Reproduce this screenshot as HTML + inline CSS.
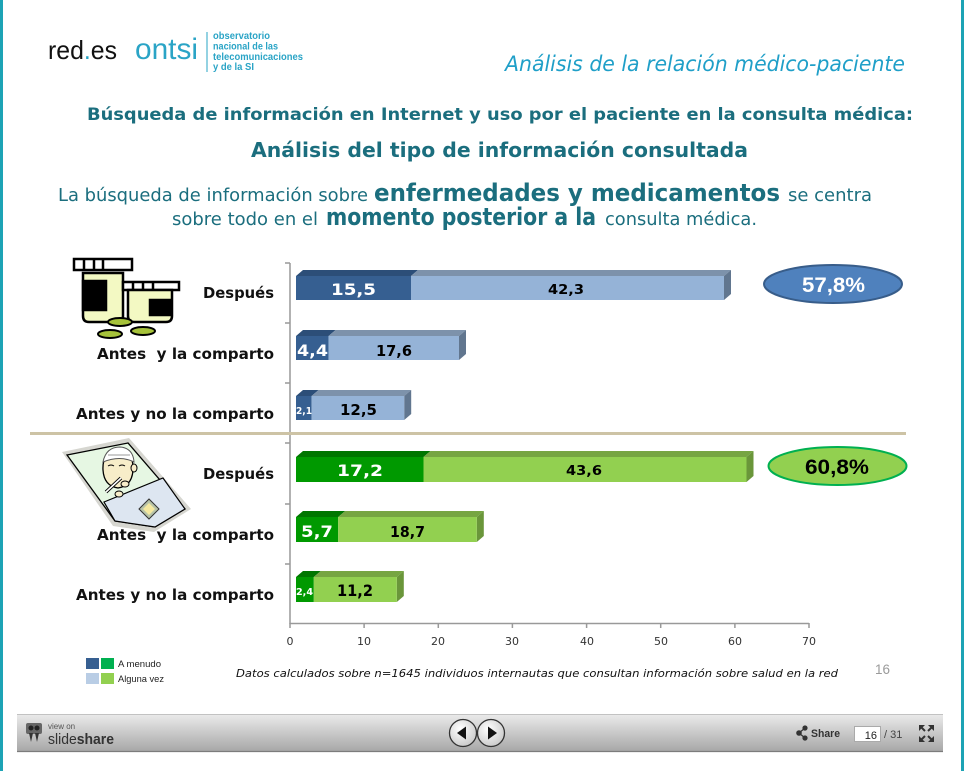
<!DOCTYPE html>
<html><head><meta charset="utf-8">
<style>
html,body{margin:0;padding:0;background:#fff;}
svg{display:block;}
text{white-space:pre;}
</style></head><body>
<svg width="964" height="771" viewBox="0 0 964 771" xmlns="http://www.w3.org/2000/svg">
<defs>
<linearGradient id="tb" x1="0" y1="0" x2="0" y2="1">
<stop offset="0" stop-color="#ebebeb"/><stop offset="1" stop-color="#a6a6a6"/>
</linearGradient>
<radialGradient id="btn" cx="0.4" cy="0.35" r="0.75">
<stop offset="0" stop-color="#ffffff"/><stop offset="1" stop-color="#c4c4c4"/>
</radialGradient>
</defs>
<rect width="964" height="771" fill="#fff"/>
<rect x="0" y="0" width="3" height="771" fill="#1ca3b5"/>
<rect x="961" y="0" width="3" height="771" fill="#1ca3b5"/>

<!-- header logos -->
<text x="48" y="59" font-family="Liberation Sans, sans-serif" font-size="26" fill="#111" textLength="69" lengthAdjust="spacingAndGlyphs">red<tspan fill="#25a3c3">.</tspan>es</text>
<text x="135" y="59" font-family="Liberation Sans, sans-serif" font-size="30" fill="#2aa4c6" textLength="63" lengthAdjust="spacingAndGlyphs">ontsi</text>
<line x1="207" y1="32" x2="207" y2="72" stroke="#2aa4c6" stroke-width="1"/>
<g font-family="Liberation Sans, sans-serif" font-size="10.5" font-weight="bold" fill="#2aa4c6">
<text x="213" y="39" textLength="57" lengthAdjust="spacingAndGlyphs">observatorio</text>
<text x="213" y="49.5" textLength="65" lengthAdjust="spacingAndGlyphs">nacional de las</text>
<text x="213" y="60" textLength="90" lengthAdjust="spacingAndGlyphs">telecomunicaciones</text>
<text x="213" y="70" textLength="41" lengthAdjust="spacingAndGlyphs">y de la SI</text>
</g>
<text x="505" y="71" font-family="DejaVu Sans, sans-serif" font-style="italic" font-size="21" fill="#1f9fc8" textLength="400" lengthAdjust="spacingAndGlyphs">Análisis de la relación médico-paciente</text>

<!-- titles -->
<g font-family="DejaVu Sans, sans-serif" fill="#1b6e7e">
<text x="87" y="120" font-size="17" font-weight="bold" textLength="826" lengthAdjust="spacingAndGlyphs">Búsqueda de información en Internet y uso por el paciente en la consulta médica:</text>
<text x="251" y="157" font-size="20" font-weight="bold" textLength="497" lengthAdjust="spacingAndGlyphs">Análisis del tipo de información consultada</text>
<text x="58" y="201" font-size="18" textLength="310" lengthAdjust="spacingAndGlyphs">La búsqueda de información sobre</text>
<text x="374" y="201" font-size="24" font-weight="bold" textLength="406" lengthAdjust="spacingAndGlyphs">enfermedades y medicamentos</text>
<text x="788" y="201" font-size="18" textLength="84" lengthAdjust="spacingAndGlyphs">se centra</text>
<text x="172" y="225" font-size="18" textLength="146" lengthAdjust="spacingAndGlyphs">sobre todo en el</text>
<text x="326" y="225" font-size="24" font-weight="bold" textLength="270" lengthAdjust="spacingAndGlyphs">momento posterior a la</text>
<text x="605" y="225" font-size="18" textLength="152" lengthAdjust="spacingAndGlyphs">consulta médica.</text>
</g>

<!-- bottles clip art -->
<g stroke="#000" stroke-width="2.5">
<rect x="74" y="259" width="58" height="11" fill="#fff"/>
<line x1="84" y1="259" x2="84" y2="270"/><line x1="94" y1="259" x2="94" y2="270"/><line x1="103" y1="259" x2="103" y2="270"/>
<path d="M83,273 H123 V316 Q123,322 117,322 H89 Q83,322 83,316 Z" fill="#f3f9c3"/>
<rect x="83" y="281" width="23" height="29" fill="#000"/>
<rect x="123" y="282" width="56" height="8" fill="#fff"/>
<line x1="133" y1="282" x2="133" y2="290"/><line x1="143" y1="282" x2="143" y2="290"/><line x1="153" y1="282" x2="153" y2="290"/>
<path d="M128,290 H172 V316 Q172,322 166,322 H134 Q128,322 128,316 Z" fill="#f3f9c3"/>
<rect x="150" y="300" width="20" height="15" fill="#000"/>
<ellipse cx="120" cy="322" rx="12" ry="4" fill="#a6c23a" stroke-width="2"/>
<ellipse cx="110" cy="334" rx="12" ry="4" fill="#a6c23a" stroke-width="2"/>
<ellipse cx="143" cy="331" rx="12" ry="4" fill="#a6c23a" stroke-width="2"/>
</g>

<!-- patient clip art -->
<g>
<polygon points="62,452 129,438 191,509 154,532 113,526" fill="#d6d6d0"/>
<polygon points="67,455 128,443 185,509 155,527 115,521" fill="#e6f7e3" stroke="#000" stroke-width="1.3"/>
<polygon points="104,502 163,478 185,509 155,527 115,521" fill="#dde6f1" stroke="#000" stroke-width="1.2"/>
<path d="M103,470 Q102,452 118,450 Q134,452 133,470 Q132,486 118,488 Q104,486 103,470 Z" fill="#f7edc9" stroke="#000" stroke-width="1.3"/>
<path d="M103,462 Q106,447 120,447 Q133,448 134,462 Q120,455 103,462 Z" fill="#fff" stroke="#555" stroke-width="1"/>
<line x1="108" y1="455" x2="130" y2="455" stroke="#999" stroke-width="1"/>
<path d="M108,466 q3,-2 6,0 M119,466 q3,-2 6,0" fill="none" stroke="#000" stroke-width="1"/>
<ellipse cx="134" cy="468" rx="3" ry="4" fill="#f7edc9" stroke="#000" stroke-width="1"/>
<line x1="106" y1="492" x2="121" y2="478" stroke="#000" stroke-width="3.5"/>
<line x1="106" y1="492" x2="121" y2="478" stroke="#fff" stroke-width="1.6"/>
<ellipse cx="125" cy="484" rx="4" ry="3" fill="#f7edc9" stroke="#000" stroke-width="1"/>
<ellipse cx="119" cy="494" rx="4" ry="3" fill="#f7edc9" stroke="#000" stroke-width="1"/>
<polygon points="139,509 149,499 159,509 149,519" fill="#b8c4a8" stroke="#333" stroke-width="1"/>
<polygon points="143,509 149,503 155,509 149,515" fill="#f5e9a0"/>
</g>

<!-- axes -->
<g stroke="#999" stroke-width="1.5">
<line x1="290" y1="263" x2="290" y2="624"/>
<line x1="290" y1="623.5" x2="809" y2="623.5"/>
<line x1="285" y1="263" x2="290" y2="263"/>
<line x1="285" y1="323" x2="290" y2="323"/>
<line x1="285" y1="383" x2="290" y2="383"/>
<line x1="285" y1="443" x2="290" y2="443"/>
<line x1="285" y1="504" x2="290" y2="504"/>
<line x1="285" y1="564" x2="290" y2="564"/>
<line x1="290" y1="623" x2="290" y2="628"/>
<line x1="364.1" y1="623" x2="364.1" y2="628"/>
<line x1="438.3" y1="623" x2="438.3" y2="628"/>
<line x1="512.4" y1="623" x2="512.4" y2="628"/>
<line x1="586.6" y1="623" x2="586.6" y2="628"/>
<line x1="660.7" y1="623" x2="660.7" y2="628"/>
<line x1="734.9" y1="623" x2="734.9" y2="628"/>
<line x1="809" y1="623" x2="809" y2="628"/>
</g>
<g font-family="DejaVu Sans, sans-serif" font-size="11" fill="#333" text-anchor="middle">
<text x="290" y="645">0</text><text x="364" y="645">10</text><text x="438" y="645">20</text><text x="512" y="645">30</text>
<text x="587" y="645">40</text><text x="661" y="645">50</text><text x="735" y="645">60</text><text x="809" y="645">70</text>
</g>

<!-- separator -->
<line x1="30" y1="433.5" x2="906" y2="433.5" stroke="#cdc3a5" stroke-width="3"/>

<!-- blue bars -->
<g>
<!-- 1 -->
<polygon points="296,276 303,270 418,270 411,276" fill="#2c4e78"/>
<polygon points="411,276 418,270 731,270 724,276" fill="#7d92ab"/>
<polygon points="724,276 731,270 731,294 724,300" fill="#61768f"/>
<rect x="296" y="276" width="115" height="24" fill="#365f91"/>
<rect x="411" y="276" width="313" height="24" fill="#95b3d7"/>
<!-- 2 -->
<polygon points="296,336 303,330 335.6,330 328.6,336" fill="#2c4e78"/>
<polygon points="328.6,336 335.6,330 466,330 459,336" fill="#7d92ab"/>
<polygon points="459,336 466,330 466,354 459,360" fill="#61768f"/>
<rect x="296" y="336" width="32.6" height="24" fill="#365f91"/>
<rect x="328.6" y="336" width="130.4" height="24" fill="#95b3d7"/>
<!-- 3 -->
<polygon points="296,396 303,390 318.6,390 311.6,396" fill="#2c4e78"/>
<polygon points="311.6,396 318.6,390 411.2,390 404.2,396" fill="#7d92ab"/>
<polygon points="404.2,396 411.2,390 411.2,414 404.2,420" fill="#61768f"/>
<rect x="296" y="396" width="15.6" height="24" fill="#365f91"/>
<rect x="311.6" y="396" width="92.6" height="24" fill="#95b3d7"/>
</g>
<!-- green bars -->
<g>
<polygon points="296,457 303,451 430.5,451 423.5,457" fill="#007600"/>
<polygon points="423.5,457 430.5,451 753.5,451 746.5,457" fill="#76a542"/>
<polygon points="746.5,457 753.5,451 753.5,476 746.5,482" fill="#6a963a"/>
<rect x="296" y="457" width="127.5" height="25" fill="#009900"/>
<rect x="423.5" y="457" width="323" height="25" fill="#92d050"/>

<polygon points="296,517 303,511 345.2,511 338.2,517" fill="#007600"/>
<polygon points="338.2,517 345.2,511 483.8,511 476.8,517" fill="#76a542"/>
<polygon points="476.8,517 483.8,511 483.8,536 476.8,542" fill="#6a963a"/>
<rect x="296" y="517" width="42.2" height="25" fill="#009900"/>
<rect x="338.2" y="517" width="138.6" height="25" fill="#92d050"/>

<polygon points="296,577 303,571 320.8,571 313.8,577" fill="#007600"/>
<polygon points="313.8,577 320.8,571 403.8,571 396.8,577" fill="#76a542"/>
<polygon points="396.8,577 403.8,571 403.8,596 396.8,602" fill="#6a963a"/>
<rect x="296" y="577" width="17.8" height="25" fill="#009900"/>
<rect x="313.8" y="577" width="83" height="25" fill="#92d050"/>
</g>

<!-- bar labels -->
<g font-family="DejaVu Sans, sans-serif" font-weight="bold">
<text x="331" y="295" font-size="16" fill="#fff" textLength="45" lengthAdjust="spacingAndGlyphs">15,5</text>
<text x="548" y="294" font-size="13" fill="#000" textLength="36" lengthAdjust="spacingAndGlyphs">42,3</text>
<text x="297" y="356" font-size="16" fill="#fff" textLength="31" lengthAdjust="spacingAndGlyphs">4,4</text>
<text x="376" y="356" font-size="15" fill="#000" textLength="36" lengthAdjust="spacingAndGlyphs">17,6</text>
<text x="296" y="414" font-size="10" fill="#fff" textLength="16" lengthAdjust="spacingAndGlyphs">2,1</text>
<text x="340" y="415" font-size="15" fill="#000" textLength="37" lengthAdjust="spacingAndGlyphs">12,5</text>
<text x="337" y="476" font-size="16" fill="#fff" textLength="46" lengthAdjust="spacingAndGlyphs">17,2</text>
<text x="566" y="475" font-size="13" fill="#000" textLength="36" lengthAdjust="spacingAndGlyphs">43,6</text>
<text x="301" y="537" font-size="16" fill="#fff" textLength="32" lengthAdjust="spacingAndGlyphs">5,7</text>
<text x="390" y="537" font-size="15" fill="#000" textLength="35" lengthAdjust="spacingAndGlyphs">18,7</text>
<text x="296" y="595" font-size="10" fill="#fff" textLength="17" lengthAdjust="spacingAndGlyphs">2,4</text>
<text x="337" y="596" font-size="16" fill="#000" textLength="36" lengthAdjust="spacingAndGlyphs">11,2</text>
</g>

<!-- category labels -->
<g font-family="DejaVu Sans, sans-serif" font-weight="bold" font-size="15" fill="#111">
<text x="203" y="298" textLength="71" lengthAdjust="spacingAndGlyphs">Después</text>
<text x="97" y="359" textLength="177" lengthAdjust="spacingAndGlyphs">Antes  y la comparto</text>
<text x="76" y="419" textLength="198" lengthAdjust="spacingAndGlyphs">Antes y no la comparto</text>
<text x="203" y="479" textLength="71" lengthAdjust="spacingAndGlyphs">Después</text>
<text x="97" y="540" textLength="177" lengthAdjust="spacingAndGlyphs">Antes  y la comparto</text>
<text x="76" y="600" textLength="198" lengthAdjust="spacingAndGlyphs">Antes y no la comparto</text>
</g>

<!-- ellipses -->
<ellipse cx="833" cy="284" rx="69" ry="19" fill="#4f81bd" stroke="#385d8a" stroke-width="2"/>
<text x="802" y="292" font-family="Liberation Sans, sans-serif" font-weight="bold" font-size="21" fill="#fff" textLength="63" lengthAdjust="spacingAndGlyphs">57,8%</text>
<ellipse cx="837.5" cy="466" rx="69" ry="19" fill="#92d050" stroke="#00b050" stroke-width="2"/>
<text x="805" y="474" font-family="Liberation Sans, sans-serif" font-weight="bold" font-size="21" fill="#000" textLength="64" lengthAdjust="spacingAndGlyphs">60,8%</text>

<!-- legend -->
<rect x="86" y="658" width="13" height="11" fill="#365f91"/>
<rect x="101" y="658" width="13" height="11" fill="#00b050"/>
<rect x="86" y="673" width="13" height="11" fill="#b9cde5"/>
<rect x="101" y="673" width="13" height="11" fill="#92d050"/>
<g font-family="Liberation Sans, sans-serif" font-size="9" fill="#222">
<text x="118" y="667" textLength="43" lengthAdjust="spacingAndGlyphs">A menudo</text>
<text x="118" y="682" textLength="46" lengthAdjust="spacingAndGlyphs">Alguna vez</text>
</g>
<text x="236" y="677" font-family="DejaVu Sans, sans-serif" font-style="italic" font-size="11" fill="#111" textLength="602" lengthAdjust="spacingAndGlyphs">Datos calculados sobre n=1645 individuos internautas que consultan información sobre salud en la red</text>
<text x="875" y="674" font-family="Liberation Sans, sans-serif" font-size="14" fill="#9a9a9a" textLength="15" lengthAdjust="spacingAndGlyphs">16</text>

<!-- toolbar -->
<rect x="17" y="714" width="926" height="38" fill="url(#tb)"/>
<line x1="17" y1="714.5" x2="943" y2="714.5" stroke="#c2c2c2" stroke-width="1"/>
<line x1="17" y1="751.5" x2="943" y2="751.5" stroke="#7c7c7c" stroke-width="1.2"/>
<g>
<rect x="26" y="723" width="16" height="11" rx="2" fill="#666"/>
<circle cx="31" cy="728" r="2.5" fill="#222"/><circle cx="37" cy="728" r="2.5" fill="#222"/>
<path d="M29,733 L31,742 L33,733 Z M35,733 L37,742 L39,733 Z" fill="#333"/>
</g>
<text x="48" y="729" font-family="Liberation Sans, sans-serif" font-size="8" fill="#555">view on</text>
<text x="48" y="744" font-family="Liberation Sans, sans-serif" font-size="15" fill="#333" textLength="66" lengthAdjust="spacingAndGlyphs">slide<tspan font-weight="bold">share</tspan></text>
<circle cx="463" cy="733" r="13.5" fill="url(#btn)" stroke="#333" stroke-width="1.3"/>
<circle cx="491" cy="733" r="13.5" fill="url(#btn)" stroke="#333" stroke-width="1.3"/>
<polygon points="457,733 466,726.5 466,739.5" fill="#111"/>
<polygon points="497,733 488,726.5 488,739.5" fill="#111"/>
<g fill="#333" stroke="#333" stroke-width="1.2">
<line x1="799" y1="733" x2="805" y2="728"/><line x1="799" y1="733" x2="805" y2="738"/>
<circle cx="799" cy="733" r="2.2"/><circle cx="805" cy="728" r="2"/><circle cx="805" cy="738" r="2"/>
</g>
<text x="811" y="737" font-family="Liberation Sans, sans-serif" font-weight="bold" font-size="11" fill="#333" textLength="29" lengthAdjust="spacingAndGlyphs">Share</text>
<rect x="854.5" y="726.5" width="26" height="15" fill="#fff" stroke="#aaa" stroke-width="1"/>
<text x="877" y="739" font-family="Liberation Sans, sans-serif" font-size="11" fill="#222" text-anchor="end">16</text>
<text x="884" y="738" font-family="Liberation Sans, sans-serif" font-size="11" fill="#444">/ 31</text>
<g fill="#333">
<polygon points="919,725 925,725 919,731"/><polygon points="934,725 928,725 934,731"/>
<polygon points="919,742 925,742 919,736"/><polygon points="934,742 928,742 934,736"/>
<path d="M920,726 L925,731 M933,726 L928,731 M920,741 L925,736 M933,741 L928,736" stroke="#333" stroke-width="2"/>
</g>
</svg>
</body></html>
